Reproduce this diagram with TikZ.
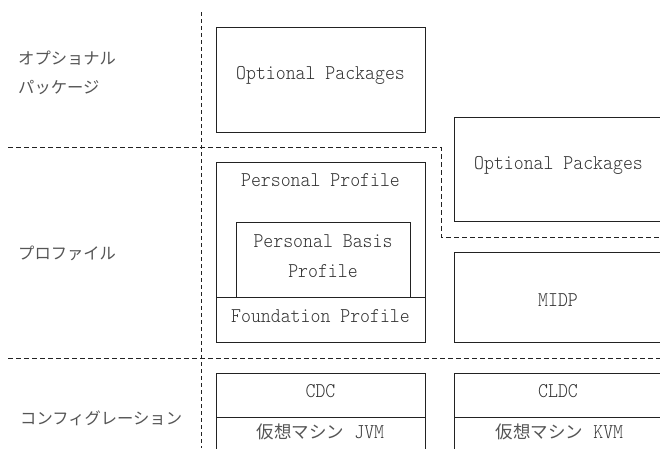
\documentclass[tikz,border=0pt]{standalone}
\usepackage{fontspec}
\newfontfamily\cjk{Noto Sans CJK JP}
\newfontfamily\lat{lmmonolt10-regular}[Extension=.otf,FakeStretch=0.9]
\definecolor{ink}{HTML}{222222}
\definecolor{txt}{HTML}{333333}
\definecolor{jtxt}{HTML}{555555}
\begin{document}
\begin{tikzpicture}[x=1pt,y=-1pt,
  box/.style={draw=ink,line width=1pt},
  sep/.style={draw=ink,line width=0.9pt,dash pattern=on 5pt off 3pt},
  vsep/.style={draw=ink,line width=0.9pt,dash pattern=on 4pt off 3pt},
  lt/.style={text=txt,font=\lat\fontsize{21}{30}\selectfont,inner sep=0pt,align=center},
  jp/.style={text=jtxt,font=\cjk\fontsize{16.3}{30}\selectfont,inner sep=0pt,anchor=west}]
\clip (0,0) rectangle (660,448);
\fill[white] (0,0) rectangle (660,448);
% separators
\draw[vsep] (201,12) -- (201,448);
\draw[sep] (8,147) -- (441,147) -- (441,237) -- (662,237);
\draw[sep] (8,358) -- (662,358);
% left column labels
\node[jp] (l1) at (18,58) {オプショナル};
\node[jp] (l2) at (18,88) {パッケージ};
\node[jp] (l3) at (18,253) {プロファイル};
\node[jp] (l4) at (20,418) {コンフィグレーション};
% CDC stack
\draw[box] (216,27) rectangle (425,132);
\node[lt] (op1) at (320.5,75) {Optional Packages};
\draw[box] (216,162) rectangle (425,342);
\node[lt] (pp) at (320.5,180) {Personal Profile};
\draw[box] (236,222) rectangle (410,297);
\node[lt] (pbp) at (323,256) {Personal Basis\\Profile};
\draw[box] (216,297) rectangle (425,342);
\node[lt] (fp) at (320.5,316) {Foundation Profile};
\draw[box] (216,373) rectangle (425,452);
\draw[box] (216,417) -- (425,417);
\node[lt] (cdc) at (320.5,391) {CDC};
\node[inner sep=0pt] (jvm) at (320.5,432) {\color{jtxt}\cjk\fontsize{17.5}{20}\selectfont 仮想マシン\color{txt}\lat\fontsize{21}{20}\selectfont{} JVM};
% CLDC stack
\draw[box] (454,117) rectangle (664,221);
\node[lt] (op2) at (558.5,165) {Optional Packages};
\draw[box] (454,252) rectangle (664,342);
\node[lt] (midp) at (558,300) {MIDP};
\draw[box] (454,373) rectangle (664,452);
\draw[box] (454,417) -- (664,417);
\node[lt] (cldc) at (558,391) {CLDC};
\node[inner sep=0pt] (kvm) at (559.5,432) {\color{jtxt}\cjk\fontsize{17.5}{20}\selectfont 仮想マシン\color{txt}\lat\fontsize{21}{20}\selectfont{} KVM};
\end{tikzpicture}
\end{document}
